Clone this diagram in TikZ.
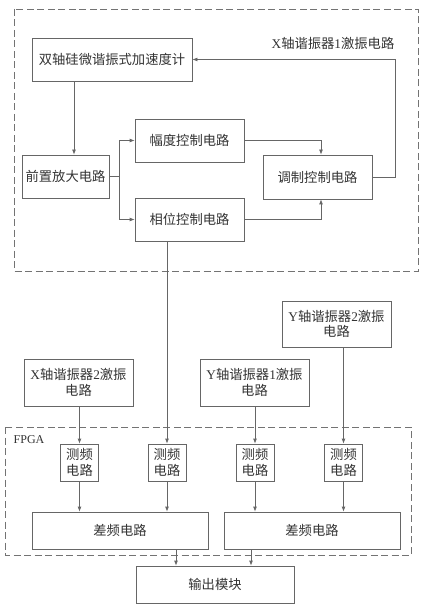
\documentclass[tikz,border=0pt]{standalone}
\usepackage{fontspec}
\setmainfont{Liberation Serif}
\newfontfamily\cjk{Noto Sans CJK SC}
\usetikzlibrary{arrows.meta}
\begin{document}
\begin{tikzpicture}[x=1pt,y=-1pt,
  txt/.style={font=\fontsize{13.3}{15}\selectfont\cjk, text=black!80},
  blk/.style={draw=black!60, line width=0.8pt, inner sep=0pt, align=center, txt},
  arr/.style={draw=black!60, line width=0.8pt, -{Latex[length=5pt,width=4pt]}},
  ln/.style={draw=black!60, line width=0.8pt},
  grp/.style={draw=black!55, line width=0.8pt, dash pattern=on 7pt off 3.5pt}]
\useasboundingbox (0,0) rectangle (425,612);
% group frames
\draw[grp] (14,9) rectangle (418,271);
\draw[grp] (5,427) rectangle (411,555);
\node[txt, font=\fontsize{13.3}{15}\selectfont] (lblx) at (333,43) {X{\cjk 轴谐振器}1{\cjk 激振电路}};
\node[txt, font=\fontsize{12}{14}\selectfont] (lblf) at (29,440) {FPGA};
% blocks
\node[blk, minimum width=160pt, minimum height=43pt] (acc) at (112,59.5) {双轴硅微谐振式加速度计};
\node[blk, minimum width=87pt, minimum height=43pt] (pre) at (65.5,176.5) {前置放大电路};
\node[blk, minimum width=109pt, minimum height=43pt] (amp) at (189.5,140.5) {幅度控制电路};
\node[blk, minimum width=109pt, minimum height=43pt] (pha) at (189.5,219.5) {相位控制电路};
\node[blk, minimum width=109pt, minimum height=44pt] (mod) at (317.5,177) {调制控制电路};
\node[blk, minimum width=109pt, minimum height=46pt, font=\fontsize{13.3}{15.5}\selectfont] (y2) at (336.5,324) {Y{\cjk 轴谐振器}2{\cjk 激振}\\{\cjk 电路}};
\node[blk, minimum width=109pt, minimum height=47pt, font=\fontsize{13.3}{15.5}\selectfont] (x2) at (78.5,382.5) {X{\cjk 轴谐振器}2{\cjk 激振}\\{\cjk 电路}};
\node[blk, minimum width=109pt, minimum height=47pt, font=\fontsize{13.3}{15.5}\selectfont] (y1) at (254.5,382.5) {Y{\cjk 轴谐振器}1{\cjk 激振}\\{\cjk 电路}};
\node[blk, minimum width=38pt, minimum height=37pt, font=\fontsize{13.3}{16}\selectfont\cjk] (f1) at (79.5,462.5) {测频\\电路};
\node[blk, minimum width=38pt, minimum height=37pt, font=\fontsize{13.3}{16}\selectfont\cjk] (f2) at (167,462.5) {测频\\电路};
\node[blk, minimum width=38pt, minimum height=37pt, font=\fontsize{13.3}{16}\selectfont\cjk] (f3) at (255,462.5) {测频\\电路};
\node[blk, minimum width=38pt, minimum height=37pt, font=\fontsize{13.3}{16}\selectfont\cjk] (f4) at (343.5,462.5) {测频\\电路};
\node[blk, minimum width=176pt, minimum height=37pt] (d1) at (120,530.5) {差频电路};
\node[blk, minimum width=176pt, minimum height=37pt] (d2) at (312,530.5) {差频电路};
\node[blk, minimum width=158pt, minimum height=37pt] (out) at (215,584.5) {输出模块};
% connectors
\draw[arr] ([xshift=-38pt]acc.south) -- ([xshift=-38pt]acc.south |- pre.north);
\draw[ln] (pre.east) -- ++(10,0) coordinate (br);
\draw[arr] (br) |- (amp.west);
\draw[arr] (br) |- (pha.west);
\draw[arr] (amp.east) -| ([xshift=3.5pt]mod.north);
\draw[arr] (pha.east) -| ([xshift=3.5pt]mod.south);
\draw[arr] (mod.east) -- ++(23,0) |- (acc.east);
\draw[arr] (pha.south -| f2.north) -- (f2.north);
\draw[arr] (x2.south -| f1.north) -- (f1.north);
\draw[arr] (y1.south -| f3.north) -- (f3.north);
\draw[arr] (y2.south -| f4.north) -- (f4.north);
\draw[arr] (f1.south) -- (f1.south |- d1.north);
\draw[arr] (f2.south) -- (f2.south |- d1.north);
\draw[arr] (f3.south) -- (f3.south |- d2.north);
\draw[arr] (f4.south) -- (f4.south |- d2.north);
\draw[arr] ([xshift=56pt]d1.south) -- ([xshift=56pt]d1.south |- out.north);
\draw[arr] ([xshift=-61pt]d2.south) -- ([xshift=-61pt]d2.south |- out.north);
\end{tikzpicture}
\end{document}
